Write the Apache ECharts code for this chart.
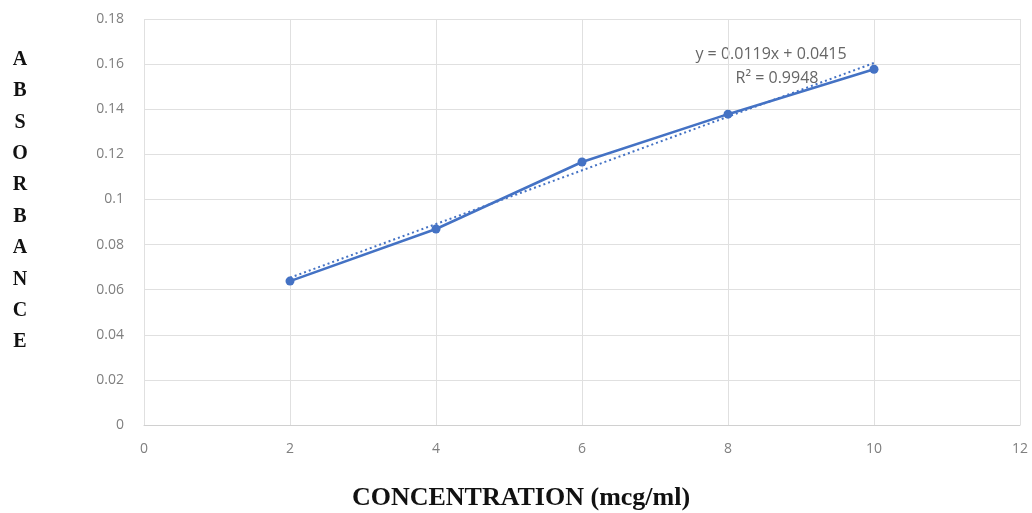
<!DOCTYPE html>
<html>
<head>
<meta charset="utf-8">
<script src="https://cdn.jsdelivr.net/npm/echarts@6/dist/echarts.min.js"></script>
<style>html,body{margin:0;padding:0;background:#fff}#c{width:1032px;height:513px}</style>
</head>
<body>
<div id="c"></div>
<script>
const concentration = [2, 4, 6, 8, 10];
const absorbance = [0.0638, 0.0869, 0.1166, 0.1378, 0.1577];
const trendX = [2, 10];
const trendY = [0.0653, 0.1605];
const equationText = 'y = 0.0119x + 0.0415';
const r2Text = 'R² = 0.9948';
const yTitle = ['A','B','S','O','R','B','A','N','C','E'];
const xTitle = 'CONCENTRATION (mcg/ml)';

const chart = echarts.init(document.getElementById('c'));
const tickFont = { color: '#7f7f7f', fontSize: 14, fontFamily: 'Open Sans, Noto Sans, sans-serif' };
chart.setOption({
  animation: false,
  grid: { left: 144, right: 12, top: 19, bottom: 88 },
  xAxis: {
    type: 'value', min: 0, max: 12, interval: 2,
    axisLine: { show: true, lineStyle: { color: '#d0d0d0' } },
    axisTick: { show: false },
    splitLine: { show: true, lineStyle: { color: '#e0e0e0' } },
    axisLabel: Object.assign({ margin: 17 }, tickFont)
  },
  yAxis: {
    type: 'value', min: 0, max: 0.18, interval: 0.02,
    axisLine: { show: false },
    axisTick: { show: false },
    splitLine: { show: true, lineStyle: { color: '#e0e0e0' } },
    axisLabel: Object.assign({ margin: 20, formatter: v => String(+v.toFixed(2)) }, tickFont)
  },
  graphic: [
    { type: 'text', x: 20, y: 44,
      style: { text: yTitle.join('\n'), font: 'bold 20px "Liberation Serif", serif', fill: '#111', lineHeight: 31.4, align: 'center' } },
    { type: 'text', x: 521, y: 498,
      style: { text: xTitle, font: 'bold 26px "Liberation Serif", serif', fill: '#111', align: 'center', verticalAlign: 'middle' } },
    { type: 'text', x: 771, y: 54,
      style: { text: equationText, font: '16px "Open Sans", sans-serif', fill: '#666', align: 'center', verticalAlign: 'middle' } },
    { type: 'text', x: 777, y: 78,
      style: { text: r2Text, font: '16px "Open Sans", sans-serif', fill: '#666', align: 'center', verticalAlign: 'middle' } }
  ],
  series: [
    {
      type: 'line',
      data: trendX.map((x, i) => [x, trendY[i]]),
      showSymbol: false,
      lineStyle: { color: '#4472C4', width: 2, type: [2, 3] },
      z: 1
    },
    {
      type: 'line',
      data: concentration.map((x, i) => [x, absorbance[i]]),
      symbol: 'circle', symbolSize: 9,
      itemStyle: { color: '#4472C4' },
      lineStyle: { color: '#4472C4', width: 2.5 },
      z: 2
    }
  ]
});
</script>
</body>
</html>
